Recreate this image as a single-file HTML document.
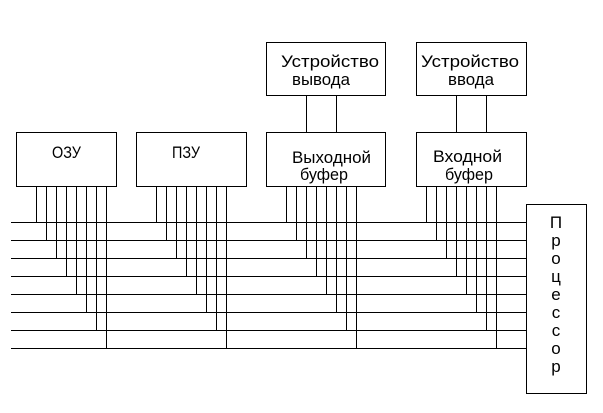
<!DOCTYPE html>
<html><head><meta charset="utf-8"><style>html,body{margin:0;padding:0;background:#fff;}svg{display:block}</style></head>
<body>
<svg width="603" height="413" viewBox="0 0 603 413" xmlns="http://www.w3.org/2000/svg" shape-rendering="crispEdges" font-family="Liberation Sans, DejaVu Sans, sans-serif" font-size="17" fill="#000">
<g stroke="#000" stroke-width="1" fill="none">
<line x1="11" y1="222.5" x2="526" y2="222.5"/>
<line x1="11" y1="240.5" x2="526" y2="240.5"/>
<line x1="11" y1="258.5" x2="526" y2="258.5"/>
<line x1="11" y1="276.5" x2="526" y2="276.5"/>
<line x1="11" y1="294.5" x2="526" y2="294.5"/>
<line x1="11" y1="312.5" x2="526" y2="312.5"/>
<line x1="11" y1="330.5" x2="526" y2="330.5"/>
<line x1="11" y1="348.5" x2="526" y2="348.5"/>
<rect x="16.5" y="132.5" width="100" height="54"/>
<rect x="136.5" y="132.5" width="110" height="54"/>
<rect x="266.5" y="132.5" width="119" height="54"/>
<rect x="416.5" y="132.5" width="110" height="54"/>
<rect x="266.5" y="42.5" width="119" height="53"/>
<rect x="416.5" y="42.5" width="110" height="53"/>
<rect x="526.5" y="204.5" width="60" height="189"/>
<line x1="306.5" y1="95" x2="306.5" y2="132"/>
<line x1="336.5" y1="95" x2="336.5" y2="132"/>
<line x1="456.5" y1="95" x2="456.5" y2="132"/>
<line x1="486.5" y1="95" x2="486.5" y2="132"/>
<line x1="36.5" y1="187" x2="36.5" y2="222.5"/>
<line x1="46.5" y1="187" x2="46.5" y2="240.5"/>
<line x1="56.5" y1="187" x2="56.5" y2="258.5"/>
<line x1="66.5" y1="187" x2="66.5" y2="276.5"/>
<line x1="76.5" y1="187" x2="76.5" y2="294.5"/>
<line x1="86.5" y1="187" x2="86.5" y2="312.5"/>
<line x1="96.5" y1="187" x2="96.5" y2="330.5"/>
<line x1="106.5" y1="187" x2="106.5" y2="348.5"/>
<line x1="156.5" y1="187" x2="156.5" y2="222.5"/>
<line x1="166.5" y1="187" x2="166.5" y2="240.5"/>
<line x1="176.5" y1="187" x2="176.5" y2="258.5"/>
<line x1="186.5" y1="187" x2="186.5" y2="276.5"/>
<line x1="196.5" y1="187" x2="196.5" y2="294.5"/>
<line x1="206.5" y1="187" x2="206.5" y2="312.5"/>
<line x1="216.5" y1="187" x2="216.5" y2="330.5"/>
<line x1="226.5" y1="187" x2="226.5" y2="348.5"/>
<line x1="286.5" y1="187" x2="286.5" y2="222.5"/>
<line x1="296.5" y1="187" x2="296.5" y2="240.5"/>
<line x1="306.5" y1="187" x2="306.5" y2="258.5"/>
<line x1="316.5" y1="187" x2="316.5" y2="276.5"/>
<line x1="326.5" y1="187" x2="326.5" y2="294.5"/>
<line x1="336.5" y1="187" x2="336.5" y2="312.5"/>
<line x1="346.5" y1="187" x2="346.5" y2="330.5"/>
<line x1="356.5" y1="187" x2="356.5" y2="348.5"/>
<line x1="426.5" y1="187" x2="426.5" y2="222.5"/>
<line x1="436.5" y1="187" x2="436.5" y2="240.5"/>
<line x1="446.5" y1="187" x2="446.5" y2="258.5"/>
<line x1="456.5" y1="187" x2="456.5" y2="276.5"/>
<line x1="466.5" y1="187" x2="466.5" y2="294.5"/>
<line x1="476.5" y1="187" x2="476.5" y2="312.5"/>
<line x1="486.5" y1="187" x2="486.5" y2="330.5"/>
<line x1="496.5" y1="187" x2="496.5" y2="348.5"/>
</g>
<text x="52" y="158" textLength="29" lengthAdjust="spacingAndGlyphs">ОЗУ</text>
<text x="172" y="158" textLength="28" lengthAdjust="spacingAndGlyphs">ПЗУ</text>
<text x="281" y="67" textLength="98" lengthAdjust="spacingAndGlyphs">Устройство</text>
<text x="292" y="85" textLength="58" lengthAdjust="spacingAndGlyphs">вывода</text>
<text x="421" y="67" textLength="98" lengthAdjust="spacingAndGlyphs">Устройство</text>
<text x="448" y="85" textLength="46" lengthAdjust="spacingAndGlyphs">ввода</text>
<text x="292" y="163" textLength="79" lengthAdjust="spacingAndGlyphs">Выходной</text>
<text x="300" y="180" textLength="48" lengthAdjust="spacingAndGlyphs">буфер</text>
<text x="433" y="162" textLength="69" lengthAdjust="spacingAndGlyphs">Входной</text>
<text x="445" y="180" textLength="48" lengthAdjust="spacingAndGlyphs">буфер</text>
<g text-anchor="middle">
<text x="556" y="228">П</text>
<text x="556" y="246">р</text>
<text x="556" y="264">о</text>
<text x="556" y="282">ц</text>
<text x="556" y="300">е</text>
<text x="556" y="318">с</text>
<text x="556" y="336">с</text>
<text x="556" y="354">о</text>
<text x="556" y="372">р</text>
</g>
</svg>
</body></html>
